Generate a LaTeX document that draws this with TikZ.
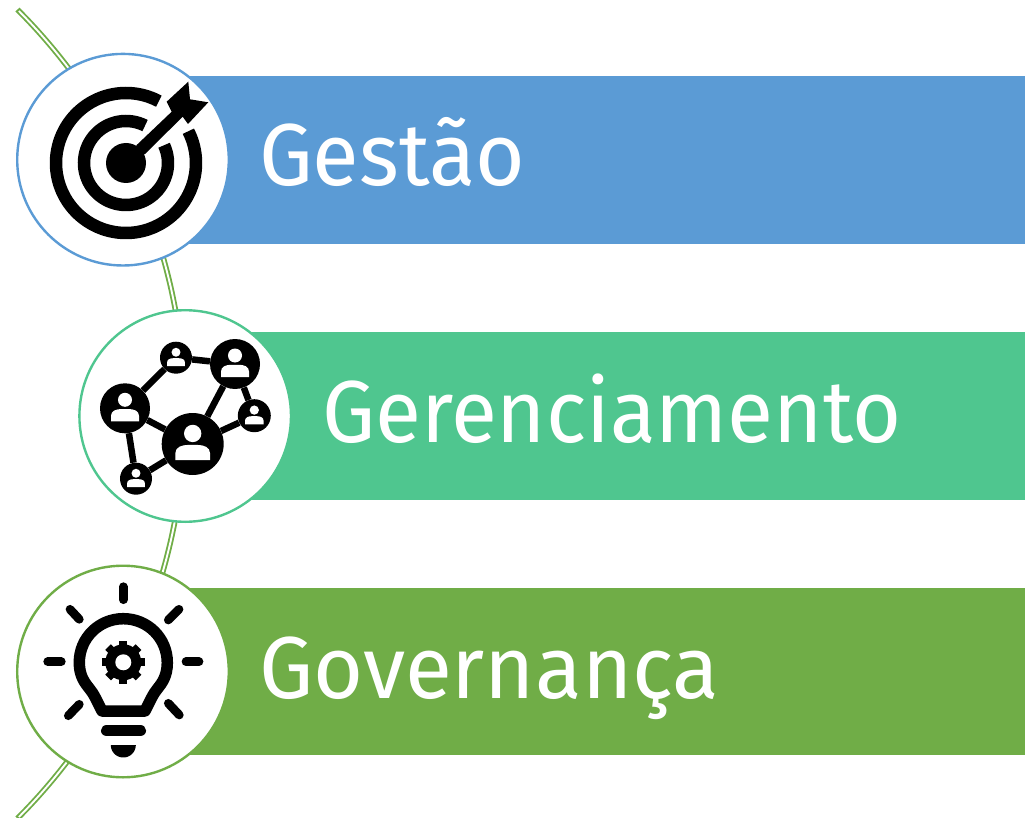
\documentclass[tikz,border=0pt]{standalone}
\usepackage{graphicx}
\usepackage{fontspec}
\setmainfont{Fira Sans}
\definecolor{cblue}{HTML}{5B9BD5}
\definecolor{cteal}{HTML}{4FC68F}
\definecolor{cgreen}{HTML}{70AD47}
\newcommand{\ringarc}[5]{\draw[line width=12.5pt,line cap=butt] plot[smooth,domain=#4:#5,samples=70] ({#1+#3*cos(\x)},{#2-#3*sin(\x)});}
\newcommand{\personicon}[3]{%
  \fill[white] (#1,#2-.34*#3) circle[radius=.28*#3];
  \fill[white] (#1-.56*#3,#2+.52*#3) -- (#1-.56*#3,#2+.3*#3)
    .. controls (#1-.56*#3,#2+.1*#3) and (#1-.35*#3,#2+.03*#3) .. (#1-.15*#3,#2+.03*#3)
    -- (#1+.15*#3,#2+.03*#3)
    .. controls (#1+.35*#3,#2+.03*#3) and (#1+.56*#3,#2+.1*#3) .. (#1+.56*#3,#2+.3*#3)
    -- (#1+.56*#3,#2+.52*#3) -- cycle;}
\tikzset{
  bar/.style={draw=none,fill=#1},
  disc/.style={circle,draw=#1,fill=white,line width=2.4pt,minimum size=211.6pt,inner sep=0pt,outer sep=0pt},
  barlabel/.style={anchor=base west,text=white,inner sep=0pt,font=\fontsize{88}{88}\selectfont},
  netnode/.style={circle,fill=black,inner sep=0pt},
  netlink/.style={line width=6.5pt,draw=black},
  ray/.style={line width=8.7pt,line cap=round,draw=black},
}
\begin{document}
\begin{tikzpicture}[x=1pt,y=-1pt]
\useasboundingbox (0,0) rectangle (1025,818);
% spine
\draw[cgreen,line width=5.6pt] plot[smooth,domain=-45:45,samples=60] ({-387+572*cos(\x)},{414+572*sin(\x)});
\draw[white,line width=1.9pt] plot[smooth,domain=-44.8:44.8,samples=60] ({-387+572*cos(\x)},{414+572*sin(\x)});
% bars
\fill[bar=cblue] (122,76) rectangle (1025,244);
\fill[bar=cteal] (184,332) rectangle (1025,500);
\fill[bar=cgreen] (122,588) rectangle (1025,755);
% discs
\node[disc=cblue] (d1) at (123,159.7) {};
\node[disc=cteal] (d2) at (185.2,416) {};
\node[disc=cgreen] (d3) at (123,671.5) {};
% labels
\node[barlabel] (t1) at (259,186) {\resizebox{266pt}{\height}{Gestão}};
\node[barlabel] (t2) at (322,442) {\resizebox{579pt}{\height}{Gerenciamento}};
\node[barlabel] (t3) at (259,698) {\resizebox{460pt}{\height}{Governança}};
% target icon
\ringarc{126}{163}{70}{62}{387}
\ringarc{126}{163}{42}{63}{385}
\fill (126,163) circle[radius=20];
\fill (126,163) -- (136.7,145) -- (171.7,111.7) -- (166.7,101.7) -- (188.3,81.7) -- (190,99.3) -- (208.3,102.3) -- (188,124) -- (182.7,116.7) -- (145,154) -- cycle;
% network icon
\node[netnode,minimum size=50pt] (n1) at (125,408.3) {};
\node[netnode,minimum size=32pt] (n2) at (176,357.7) {};
\node[netnode,minimum size=50pt] (n3) at (235,364) {};
\node[netnode,minimum size=33pt] (n4) at (254.3,415.7) {};
\node[netnode,minimum size=62pt] (n5) at (192.7,444) {};
\node[netnode,minimum size=32pt] (n6) at (136,478.7) {};
\draw[netlink] (n1) -- (n2);
\draw[netlink] (n2) -- (n3);
\draw[netlink] (n3) -- (n4);
\draw[netlink] (n3) -- (n5);
\draw[netlink] (n5) -- (n4);
\draw[netlink] (n1) -- (n5);
\draw[netlink] (n1) -- (n6);
\draw[netlink] (n6) -- (n5);
\personicon{125}{408.3}{25}
\personicon{176}{357.7}{16}
\personicon{235}{364}{25}
\personicon{254.3}{415.7}{16.5}
\personicon{192.7}{444}{31}
\personicon{136}{478.7}{16}
% bulb icon
\draw[line width=11.5pt,line join=round]
  (167.3,662.7) .. controls (167.3,676) and (162,683) .. (158,688)
  .. controls (153,694) and (150,701) .. (145,711)
  -- (102,711) .. controls (97,701) and (94,694) .. (89,688)
  .. controls (85,683) and (79.3,676) .. (79.3,662.7)
  .. controls (79.3,638) and (99,618.7) .. (123.3,618.7)
  .. controls (147.6,618.7) and (167.3,638) .. (167.3,662.7) -- cycle;
\foreach \a in {0,45,...,315}{
  \draw[line width=8pt] (123.3,662.3) -- ++({21.5*cos(\a)},{21.5*sin(\a)});
}
\fill (123.3,662.3) circle[radius=18];
\fill[white] (123.3,662.3) circle[radius=8];
\draw[ray] (123.3,586.7) -- (123.3,599.7);
\draw[ray] (47.7,661.7) -- (61.3,661.7);
\draw[ray] (186,661.7) -- (199,661.7);
\draw[ray] (70,609.3) -- (79.3,619.3);
\draw[ray] (179,609.3) -- (168.3,620);
\draw[ray] (68.3,715.7) -- (79.3,704.3);
\draw[ray] (168.3,703.3) -- (179.3,715);
\draw[line width=11.5pt,line cap=round] (106.7,730.7) -- (140.3,730.7);
\fill plot[smooth,domain=180:360,samples=30] ({123.3+12.5*cos(\x)},{745-12.5*sin(\x)}) -- cycle;
\end{tikzpicture}
\end{document}
